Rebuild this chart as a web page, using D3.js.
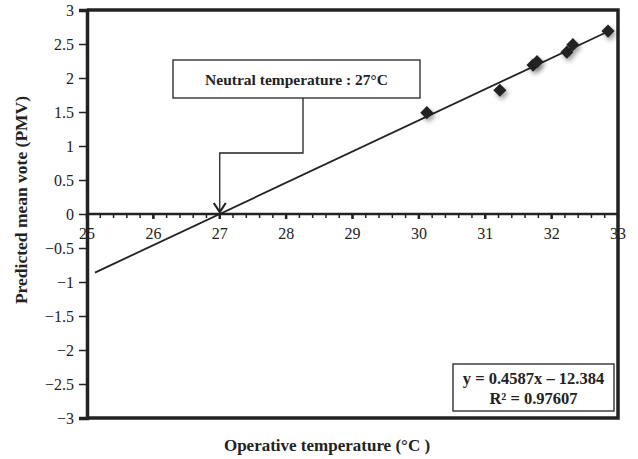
<!DOCTYPE html>
<html>
<head>
<meta charset="utf-8">
<script src="https://cdn.jsdelivr.net/npm/d3@7"></script>
<style>
  body { margin: 0; background: #fff; }
  svg text { font-family: "Liberation Serif", "DejaVu Serif", serif; fill: #222; }
</style>
</head>
<body>
<div id="container"></div>
<script>
// observed points (operative temperature, PMV)
var temps = [30.12, 31.22, 31.72, 31.78, 32.23, 32.32, 32.85];
var pmv = [1.49, 1.82, 2.19, 2.24, 2.38, 2.49, 2.69];
// trend line y = 0.4587x - 12.384
var slope = 0.4587, intercept = -12.384;
var lineRange = [25.12, 32.85];
var xTicks = [25, 26, 27, 28, 29, 30, 31, 32, 33];
var yTicks = [3, 2.5, 2, 1.5, 1, 0.5, 0, -0.5, -1, -1.5, -2, -2.5, -3];
var neutralTemp = 27;

var width = 638, height = 459;
var ink = "#222";

var svg = d3.select("#container").append("svg")
    .attr("width", width)
    .attr("height", height);

var x = d3.scaleLinear().domain([25, 33]).range([87, 618]);
var y = d3.scaleLinear().domain([-3, 3]).range([418, 10]);

var defs = svg.append("defs");
var f = defs.append("filter").attr("id", "shadow")
    .attr("x", "-100%").attr("y", "-100%").attr("width", "300%").attr("height", "300%");
f.append("feGaussianBlur").attr("in", "SourceAlpha").attr("stdDeviation", 2.5).attr("result", "b");
f.append("feOffset").attr("dx", 2).attr("dy", 3).attr("result", "o");
f.append("feComponentTransfer").append("feFuncA").attr("type", "linear").attr("slope", 0.4);
var fm = f.append("feMerge");
fm.append("feMergeNode");
fm.append("feMergeNode").attr("in", "SourceGraphic");

// frame (top / right / bottom)
svg.append("path")
    .attr("d", "M" + x(25) + "," + y(3) + "H" + x(33) + "V" + y(-3) + "H" + x(25))
    .attr("fill", "none").attr("stroke", ink).attr("stroke-width", 3.5);

// y axis on the left
var yAxis = d3.axisLeft(y).tickValues(yTicks).tickSize(8).tickPadding(5)
    .tickFormat(function (d) { return d3.format("")(d).replace("-", "\u2212"); });
var gy = svg.append("g").attr("transform", "translate(" + x(25) + ",0)").call(yAxis);
gy.select(".domain").attr("stroke", ink).attr("stroke-width", 3.5);
gy.selectAll(".tick line").attr("stroke", ink).attr("stroke-width", 1.5);
gy.selectAll(".tick text").style("font-size", "16px").attr("fill", ink)
    .style("font-family", "'Liberation Serif', serif");

// x axis at y = 0 with minor ticks
var minor = d3.range(25, 33.001, 0.2);
var gx = svg.append("g").attr("transform", "translate(0," + y(0) + ")");
gx.selectAll("line.minor").data(minor).enter().append("line")
    .attr("class", "minor")
    .attr("x1", function (d) { return x(d); }).attr("x2", function (d) { return x(d); })
    .attr("y1", 0).attr("y2", 4).attr("stroke", ink).attr("stroke-width", 1.5);
gx.selectAll("line.major").data(xTicks).enter().append("line")
    .attr("x1", function (d) { return x(d); }).attr("x2", function (d) { return x(d); })
    .attr("y1", 0).attr("y2", 5).attr("stroke", ink).attr("stroke-width", 2.5);
gx.append("line").attr("x1", x(25)).attr("x2", x(33)).attr("y1", 0).attr("y2", 0)
    .attr("stroke", ink).attr("stroke-width", 2.5);
gx.selectAll("text").data(xTicks).enter().append("text")
    .attr("x", function (d) { return x(d); })
    .attr("y", 25)
    .attr("text-anchor", "middle")
    .style("font-size", "16px")
    .text(function (d) { return d; });

// trend line
svg.append("line")
    .attr("x1", x(lineRange[0])).attr("y1", y(slope * lineRange[0] + intercept))
    .attr("x2", x(lineRange[1])).attr("y2", y(slope * lineRange[1] + intercept))
    .attr("stroke", ink).attr("stroke-width", 1.8);

// diamond markers
var pts = temps.map(function (t, i) { return { t: t, v: pmv[i] }; });
svg.selectAll("path.pt").data(pts).enter().append("path")
    .attr("class", "pt")
    .attr("d", d3.symbol().type(d3.symbolDiamond2).size(110))
    .attr("transform", function (d) { return "translate(" + x(d.t) + "," + y(d.v) + ")"; })
    .attr("fill", ink)
    .attr("filter", "url(#shadow)");

// neutral temperature callout
var bx0 = 173, bx1 = 420, by0 = 60, by1 = 98;
svg.append("rect").attr("x", bx0).attr("y", by0).attr("width", bx1 - bx0).attr("height", by1 - by0)
    .attr("fill", "#fff").attr("stroke", ink).attr("stroke-width", 1.3);
svg.append("text").attr("x", (bx0 + bx1) / 2).attr("y", by0 + 25)
    .attr("text-anchor", "middle").style("font-size", "15.5px").style("font-weight", "bold")
    .text("Neutral temperature : " + neutralTemp + "\u00b0C");
var ax = x(neutralTemp);
svg.append("path")
    .attr("d", "M303," + by1 + "V153H" + ax + "V" + (y(0) - 2))
    .attr("fill", "none").attr("stroke", ink).attr("stroke-width", 1.3);
svg.append("path")
    .attr("d", "M" + (ax - 6) + "," + (y(0) - 11) + "L" + ax + "," + (y(0) - 2) + "L" + (ax + 6) + "," + (y(0) - 11))
    .attr("fill", "none").attr("stroke", ink).attr("stroke-width", 2.2);

// equation box
var ex0 = 453, ex1 = 614, ey0 = 364, ey1 = 411;
svg.append("rect").attr("x", ex0).attr("y", ey0).attr("width", ex1 - ex0).attr("height", ey1 - ey0)
    .attr("fill", "#fff").attr("stroke", ink).attr("stroke-width", 1.3);
svg.append("text").attr("x", (ex0 + ex1) / 2).attr("y", ey0 + 20)
    .attr("text-anchor", "middle").style("font-size", "16.5px").style("font-weight", "bold")
    .text("y = " + slope + "x \u2013 " + Math.abs(intercept));
svg.append("text").attr("x", (ex0 + ex1) / 2).attr("y", ey0 + 40)
    .attr("text-anchor", "middle").style("font-size", "16.5px").style("font-weight", "bold")
    .text("R\u00b2 = 0.97607");

// axis titles
svg.append("text").attr("x", 327).attr("y", 451)
    .attr("text-anchor", "middle").style("font-size", "17px").style("font-weight", "bold")
    .text("Operative temperature (\u00b0C )");
svg.append("text").attr("transform", "translate(27,200) rotate(-90)")
    .attr("text-anchor", "middle").style("font-size", "17.5px").style("font-weight", "bold")
    .text("Predicted mean vote (PMV)");
</script>
</body>
</html>
